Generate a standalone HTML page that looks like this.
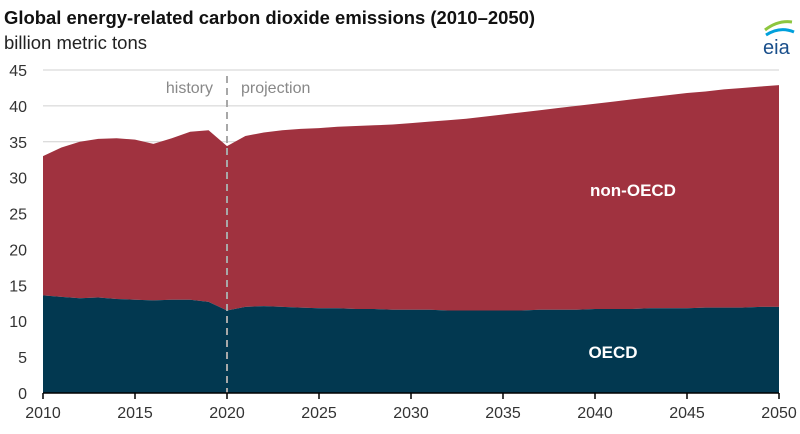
<!DOCTYPE html>
<html><head><meta charset="utf-8"><style>
body{margin:0;background:#fff;font-family:"Liberation Sans",Arial,sans-serif;}
svg text{font-family:"Liberation Sans",Arial,sans-serif;}
</style></head><body>
<svg id="c" width="800" height="429" viewBox="0 0 800 429">
<text x="4" y="24" font-size="18" font-weight="bold" fill="#111" textLength="531" lengthAdjust="spacingAndGlyphs">Global energy-related carbon dioxide emissions (2010–2050)</text>
<text x="4" y="49" font-size="18" fill="#222" textLength="143" lengthAdjust="spacingAndGlyphs">billion metric tons</text>
<g>
<path d="M765 30 Q778 20 792 22" stroke="#8dc63f" stroke-width="3" fill="none"/>
<path d="M766 35 Q780 26 794 32" stroke="#00a0dc" stroke-width="3" fill="none"/>
<text x="763" y="54" font-size="20" fill="#1a4f8b" font-family="Liberation Serif">eia</text>
</g>
<g id="grid"></g><g id="areas"></g><g id="axes"></g>
</svg>
<script>
const years=[2010,2011,2012,2013,2014,2015,2016,2017,2018,2019,2020,2021,2022,2023,2024,2025,2026,2027,2028,2029,2030,2031,2032,2033,2034,2035,2036,2037,2038,2039,2040,2041,2042,2043,2044,2045,2046,2047,2048,2049,2050];
const oecd=[13.6,13.4,13.2,13.3,13.1,13.0,12.9,13.0,13.0,12.7,11.5,12.0,12.1,12.0,11.9,11.8,11.8,11.7,11.7,11.6,11.6,11.6,11.5,11.5,11.5,11.5,11.5,11.6,11.6,11.6,11.7,11.7,11.7,11.8,11.8,11.8,11.9,11.9,11.9,12.0,12.0];
const nonOecd=[19.4,20.8,21.8,22.1,22.4,22.3,21.8,22.5,23.4,23.9,22.9,23.8,24.2,24.6,24.9,25.1,25.3,25.5,25.6,25.8,26.0,26.2,26.5,26.7,27.0,27.3,27.6,27.8,28.1,28.4,28.6,28.9,29.2,29.4,29.7,30.0,30.1,30.4,30.6,30.7,30.9];
const yTicks=[0,5,10,15,20,25,30,35,40,45];
const xTicks=[2010,2015,2020,2025,2030,2035,2040,2045,2050];
const NS="http://www.w3.org/2000/svg";
const X=v=>43+(v-2010)*(779-43)/40, Y=v=>393-v*(393-70)/45;
function mk(t,a,p,txt){const e=document.createElementNS(NS,t);for(const k in a)e.setAttribute(k,a[k]);if(txt!=null)e.textContent=txt;p.appendChild(e);return e;}
const g=document.getElementById('grid'),ar=document.getElementById('areas'),ax=document.getElementById('axes');
yTicks.forEach(t=>{
 if(t>0){const l=mk('line',{x1:43,x2:779,y1:Y(t),y2:Y(t),stroke:'#d0d0d0','stroke-width':1},g);
 
 }
 const tx=mk('text',{x:27,y:Y(t)+6,'font-size':16,fill:'#333','text-anchor':'end'},ax,t);
 
 
});
const topPts=years.map((y,i)=>X(y)+','+Y(oecd[i]+nonOecd[i]));
const midPts=years.map((y,i)=>X(y)+','+Y(oecd[i]));
const pn=mk('polygon',{points:topPts.join(' ')+' '+midPts.slice().reverse().join(' '),fill:'#a0323f'},ar);


const po=mk('polygon',{points:midPts.join(' ')+' '+X(2050)+','+Y(0)+' '+X(2010)+','+Y(0),fill:'#023850'},ar);


const dl=mk('line',{x1:X(2020),x2:X(2020),y1:76,y2:393,stroke:'#a8a8a8','stroke-width':2,'stroke-dasharray':'7,5'},ax);


const h=mk('text',{x:X(2020)-14,y:93,'font-size':16,fill:'#888','text-anchor':'end'},ax,'history');


const pj=mk('text',{x:X(2020)+14,y:93,'font-size':16,fill:'#888'},ax,'projection');


const bl=mk('line',{x1:43,x2:779,y1:393,y2:393,stroke:'#000','stroke-width':1.5},ax);


xTicks.forEach(t=>{
 const tk=mk('line',{x1:X(t),x2:X(t),y1:393,y2:399,stroke:'#000','stroke-width':1.5},ax);
 
 
 const tx=mk('text',{x:X(t),y:418,'font-size':16,fill:'#333','text-anchor':'middle'},ax,t);
 
 
});
const l1=mk('text',{x:633,y:196,'font-size':17,'font-weight':'bold',fill:'#fff','text-anchor':'middle'},ax,'non-OECD');


const l2=mk('text',{x:613,y:358,'font-size':17,'font-weight':'bold',fill:'#fff','text-anchor':'middle'},ax,'OECD');


</script>
</body></html>
